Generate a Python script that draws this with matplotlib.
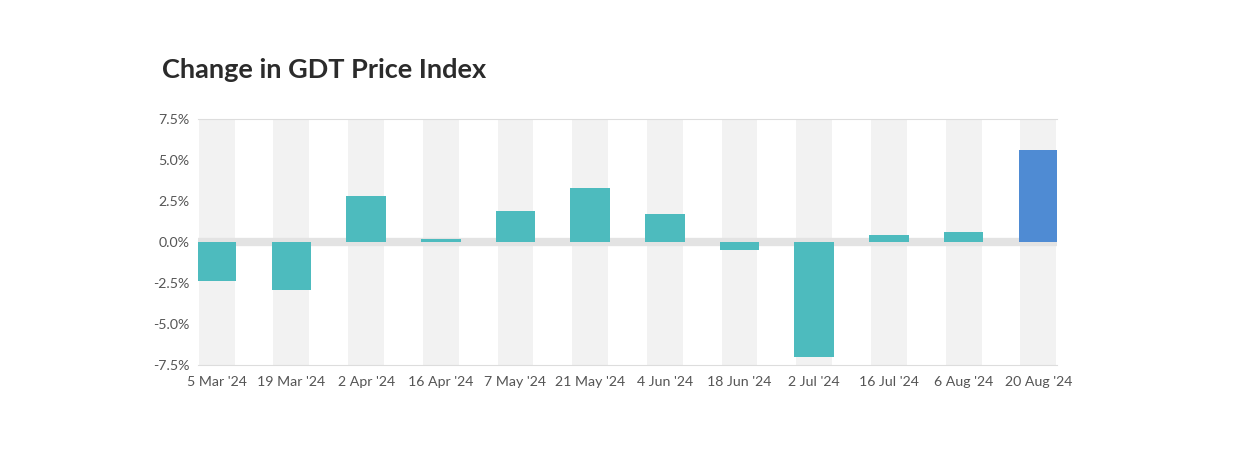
import matplotlib
matplotlib.use("Agg")
from matplotlib import pyplot as plt
from matplotlib.ticker import FuncFormatter

dates = ["5 Mar '24", "19 Mar '24", "2 Apr '24", "16 Apr '24", "7 May '24", "21 May '24",
         "4 Jun '24", "18 Jun '24", "2 Jul '24", "16 Jul '24", "6 Aug '24", "20 Aug '24"]
change = [-2.4, -2.9, 2.8, 0.2, 1.9, 3.3, 1.7, -0.5, -7.0, 0.4, 0.6, 5.6]

teal = "#4dbbbe"
blue = "#4f8bd3"
colors = [teal] * (len(dates) - 1) + [blue]

plt.rcParams['font.family'] = ['Lato', 'DejaVu Sans']

fig = plt.figure(figsize=(12.5, 4.5), dpi=100)
ax = fig.add_axes([198 / 1250, 1 - 365 / 450, (1057 - 198) / 1250, (365 - 119) / 450])

x = list(range(len(dates)))
# grey column behind every category
ax.bar(x, [15] * len(x), bottom=-7.5, width=0.48, color="#f2f2f2", zorder=0)
ax.axhline(0, color="#e3e3e3", linewidth=6, zorder=1)
ax.bar(x, change, width=0.53, color=colors, zorder=2)

ax.set_xlim(-0.25, 11.25)
ax.set_ylim(-7.5, 7.5)
ax.set_yticks([-7.5, -5, -2.5, 0, 2.5, 5, 7.5])
ax.yaxis.set_major_formatter(FuncFormatter(lambda v, p: "%.1f%%" % v))
ax.set_xticks(x)
ax.set_xticklabels(dates)

for s in ["left", "right"]:
    ax.spines[s].set_visible(False)
ax.spines["top"].set_color("#dddddd")
ax.spines["bottom"].set_color("#dddddd")
ax.tick_params(axis="both", length=0, labelsize=10.2, colors="#555555")
ax.tick_params(axis="x", pad=8)
ax.tick_params(axis="y", pad=6)

fig.text(162 / 1250, 1 - 70 / 450, "Change in GDT Price Index", fontsize=19.5, fontweight="bold",
         color="#2b2b2b", va="center", ha="left")

fig.savefig("out.png", dpi=100, facecolor="white")
